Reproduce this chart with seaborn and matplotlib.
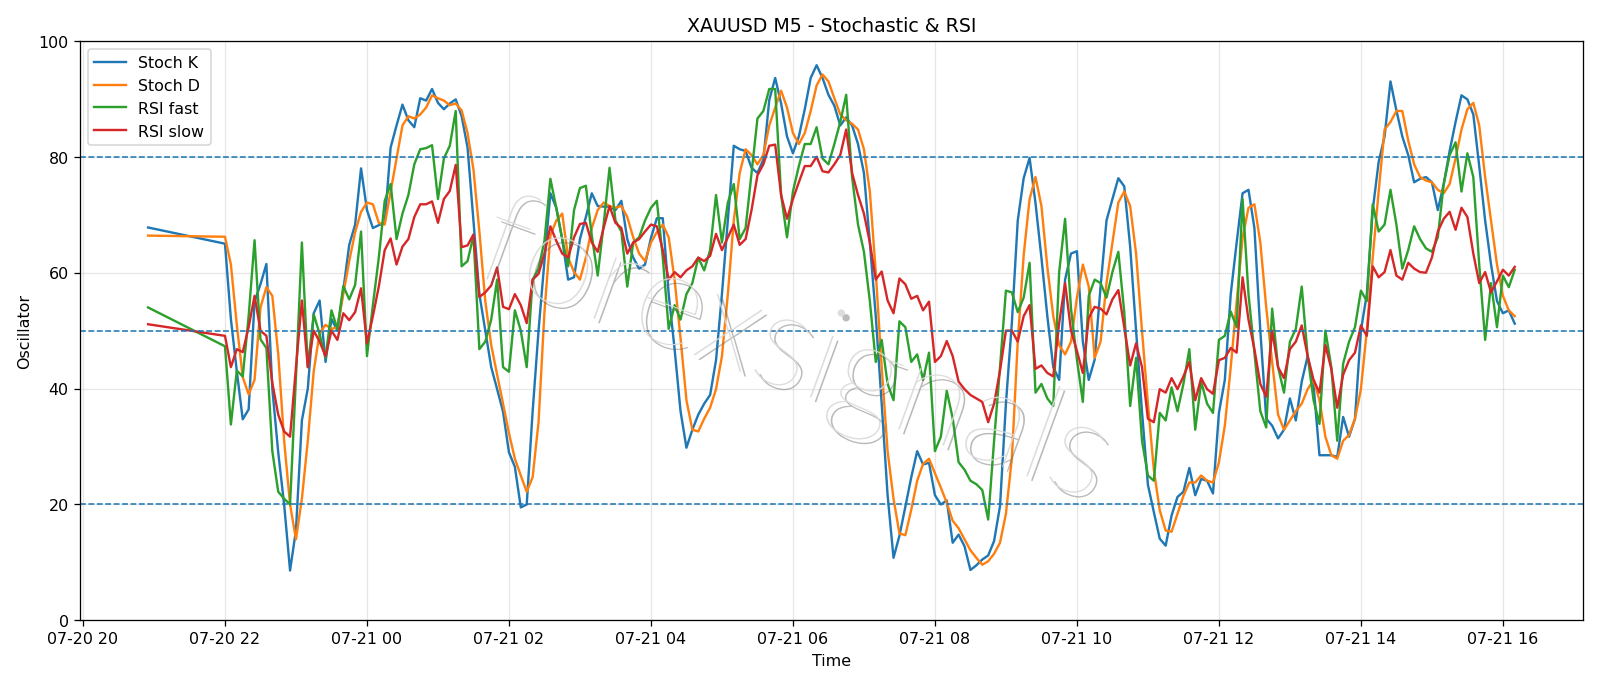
import pandas as pd
import matplotlib
matplotlib.use("Agg")
import matplotlib.pyplot as plt
import matplotlib.dates as mdates
import matplotlib.patheffects as pe
import seaborn as sns


# Valeurs : un point a 20:55, puis toutes les 5 min de 22:00 a 16:10
first_time = "2023-07-20 20:55"
start_time = "2023-07-20 22:00"
n_points = 219

stoch_k = [67.8,
    65.0, 52, 43, 34.7, 36.4, 55, 58, 61.5, 40, 29,
    20, 8.6, 15.6, 34.5, 40, 53, 55.2, 44.6, 52, 50,
    57, 64.8, 68.3, 78, 70.8, 67.7, 68.2, 68.6, 81.6, 85.4,
    89, 86.3, 85.1, 90.1, 89.7, 91.7, 89.3, 88.2, 89.2, 89.9,
    87, 81.6, 69, 56.3, 50, 43.7, 39.9, 36, 29, 26.5,
    19.5, 20, 36, 50, 62, 73.7, 71.2, 65.8, 58.8, 59.2,
    65.8, 69.6, 73.7, 71.5, 71.4, 71.4, 70.8, 72.4, 65.8, 62.6,
    60.7, 61.4, 66, 69.4, 69.4, 56.3, 46.8, 36.1, 29.8, 32.9,
    35.5, 37.4, 38.9, 44.9, 56.3, 69, 81.9, 81.3, 81, 78.1,
    77.2, 79.5, 89.8, 93.6, 89.2, 83.5, 80.6, 83.5, 88.2, 93.6,
    95.8, 93.6, 90.7, 88.8, 85.4, 86.8, 85.4, 82.2, 77.2, 65.2,
    52.5, 37.4, 21.6, 10.8, 14.6, 19.6, 24.7, 29.2, 26.9, 27.2,
    21.6, 20, 20.7, 13.4, 14.8, 12.8, 8.7, 9.5, 10.5, 11.2,
    13.7, 19.7, 37.4, 51.3, 69, 76.3, 79.8, 72, 62.6, 52.5,
    43.7, 41.5, 58.8, 63.3, 63.7, 48.1, 41.5, 45, 57.6, 69,
    72.7, 76.3, 74.9, 64.5, 50, 36, 23.4, 18.7, 14.1, 12.9,
    18.1, 21.3, 22.2, 26.3, 21.6, 24.4, 24.1, 21.9, 35.8, 41.5,
    56.3, 65.2, 73.7, 74.3, 67.7, 50, 34.8, 33.6, 31.4, 32.9,
    38.3, 34.5, 41.2, 45.6, 40.5, 28.5, 28.5, 28.5, 28.2, 35.1,
    31.7, 34.8, 50, 56.3, 70.8, 79.1, 83.5, 93, 88, 83.5,
    80.3, 75.6, 76.2, 76.5, 75.6, 70.8, 75.3, 81, 86, 90.6,
    89.9, 87.3, 78.4, 69, 61.4, 55.1, 53, 53.5, 51.2]

stoch_d = [66.4,
    66.2, 61.4, 51, 42, 39, 41.5, 54, 57.5, 56, 46,
    31, 20, 14, 21, 31, 43, 49.6, 51, 50.3, 50.6,
    56.3, 62, 67, 70.5, 72.1, 71.8, 68.6, 68.3, 74, 79.7,
    85.4, 87, 86.6, 87.3, 88.5, 90.6, 90.1, 89.7, 88.9, 89.2,
    88, 84.1, 77.8, 67.1, 55.1, 47.5, 42.4, 37.4, 32.3, 27.9,
    25, 22.2, 24.7, 34.2, 53.2, 66.4, 69, 70.2, 62.6, 60.1,
    58.8, 62.6, 67.7, 70.8, 72.1, 71.5, 71.2, 71.5, 69.6, 66.1,
    63.3, 62, 65.2, 67, 68.3, 66.1, 58.8, 48.7, 38, 32.9,
    32.6, 34.8, 36.7, 39.9, 45.6, 56.3, 69, 77.2, 81.3, 80.3,
    78.7, 80.3, 85.4, 88.5, 91.4, 88.5, 84.1, 82.2, 84.1, 87.9,
    92.3, 94.2, 93, 90.1, 87.3, 86.3, 85.7, 84.7, 81.3, 74,
    60.1, 43.7, 29.2, 21, 15, 14.7, 19.1, 24.1, 27, 27.9,
    25.4, 22.9, 20.3, 17.2, 15.9, 14, 12.1, 10.8, 9.6, 10.2,
    11.5, 13.4, 18.4, 27.9, 48.1, 63, 72.7, 76.5, 71.5, 61,
    52.5, 47.5, 45.9, 48.1, 55.7, 61.4, 57.6, 45.3, 48.1, 58.2,
    65.2, 72.1, 74, 71.5, 63.3, 50, 37.4, 26, 19, 15.5,
    15.3, 18.4, 21.5, 23.8, 23.8, 25, 24.1, 23.8, 27.3, 33.6,
    43.7, 55, 66, 71.2, 71.8, 65.2, 54, 44.6, 35.5, 32.9,
    34.5, 36.1, 37.4, 39.9, 41.5, 38, 31.7, 28.5, 27.9, 31,
    32, 34.8, 39.9, 50, 62.6, 74, 84.7, 86, 87.9, 87.9,
    82.8, 78.7, 76.5, 75.9, 75.6, 74.3, 73.7, 75.3, 79.7, 84.7,
    88.2, 89.3, 85.4, 76.5, 69, 61.4, 56, 53.5, 52.5]

rsi_fast = [54,
    47.3, 33.8, 43.1, 42.1, 52.5, 65.6, 48.5, 47, 29.2, 22.2,
    21, 20, 42, 65.2, 43.7, 52.8, 49.4, 45.3, 53.5, 50.3,
    57.7, 55.4, 57.9, 67.1, 45.6, 54.4, 62.6, 72.4, 75.3, 65.8,
    70.2, 73.4, 78.7, 81.3, 81.5, 82, 72.7, 79.7, 81.9, 87.9,
    61.1, 62, 66.4, 46.8, 48.1, 51.9, 58.8, 43.7, 42.9, 53.5,
    50, 43.7, 58.8, 60.7, 65.5, 76.2, 71.2, 65.8, 61.1, 70.8,
    74.6, 75, 66.4, 59.5, 68.3, 78.1, 69, 67.1, 57.6, 65.2,
    66.1, 69, 71.2, 72.4, 62.6, 50.3, 54.4, 51.9, 56.3, 58.2,
    62.6, 60.4, 63.9, 73.4, 65.2, 72.1, 75.3, 65.8, 67.7, 77.2,
    86.6, 87.9, 91.7, 91.7, 73.4, 66.1, 74, 78.4, 82.2, 82.2,
    85.1, 79.7, 78.7, 82.2, 86, 90.7, 76.5, 68.3, 63.6, 55.1,
    44.6, 48.4, 40.8, 38, 51.6, 50.6, 44.6, 45.9, 41.5, 46.2,
    29.2, 31.7, 39.6, 34.9, 27.3, 26, 24.1, 23.5, 22.5, 17.4,
    31, 43.7, 56.9, 56.6, 53.2, 55.7, 61.7, 39.3, 40.8, 38.3,
    37, 60.1, 69.3, 53.8, 45, 37.7, 56, 58.8, 58.2, 55.7,
    60.1, 63.6, 53.2, 37, 45.3, 31, 25, 24.1, 35.8, 34.5,
    40.2, 36.1, 40.8, 46.8, 32.9, 41.2, 37.4, 35.8, 48.4, 49.1,
    53.3, 50.6, 72.7, 56.3, 46.2, 36.1, 33.3, 53.8, 43.7, 39.3,
    48.1, 50.3, 57.6, 45.6, 38, 33.9, 50, 43.7, 31, 44.3,
    48.1, 50.6, 56.9, 55.1, 71.8, 67.1, 68.3, 74.3, 68.3, 60.7,
    63.9, 68, 65.8, 64.2, 63.6, 66.1, 75.3, 80.3, 82.5, 74,
    80.6, 76.5, 61.4, 48.4, 58.2, 50.6, 59.5, 57.5, 60.5]

rsi_slow = [51.1,
    49.1, 43.7, 46.8, 46.3, 50.6, 56, 50, 49.1, 41, 35.5,
    32.6, 31.7, 43.7, 55.2, 43.7, 50, 48.1, 45.6, 50, 48.4,
    53, 51.8, 53.2, 57.3, 47.8, 52.5, 57.6, 63.9, 65.9, 61.4,
    64.5, 65.8, 69.6, 71.8, 71.8, 72.3, 68.6, 72.7, 74.1, 78.6,
    64.4, 64.7, 66.6, 55.8, 56.6, 57.8, 60.9, 54.1, 53.7, 56.3,
    54.4, 51.3, 58.8, 59.8, 63.3, 68, 65.5, 63.3, 62.6, 66.1,
    68.4, 68.6, 65.2, 63.6, 67.7, 71.5, 68.6, 67.7, 63.3, 65.2,
    65.8, 67.1, 68.3, 68, 63.9, 58.8, 60.1, 59.2, 60.4, 61.1,
    62.6, 62, 62.9, 66.7, 63.9, 66.1, 68.3, 64.8, 65.8, 70.8,
    76.8, 78.7, 81.9, 82.1, 73.4, 69.3, 72.7, 75.6, 78.4, 78.4,
    80, 77.5, 77.3, 78.7, 80.3, 84.7, 77.2, 73.4, 70.2, 65.2,
    58.8, 60.2, 55.2, 53, 59, 58, 55.5, 56, 53.5, 55,
    44.6, 45.6, 48.2, 45.6, 41.2, 39.9, 38.9, 38.3, 37.7, 34.2,
    37.4, 43.1, 50, 50, 48.1, 52.5, 54.4, 43.4, 44, 42.7,
    42.1, 51.3, 58.2, 50, 46.5, 42.7, 52.2, 54.1, 53.8, 52.8,
    55.4, 57, 50.6, 44, 47.8, 43.7, 34.8, 34.2, 39.9, 39.3,
    41.8, 39.9, 42.1, 44.6, 38, 41.8, 39.9, 39.1, 44.9, 45.3,
    47, 46.2, 59.2, 51.9, 46.8, 40.8, 38.6, 50, 43.7, 41.8,
    46.8, 48.1, 50.9, 45.6, 41.5, 39.3, 47.5, 43.4, 36.7, 42.4,
    44.9, 46.2, 50.9, 49.1, 61.1, 59.2, 60.1, 63.9, 59.5, 58.8,
    61.7, 60.7, 60.1, 60, 62.6, 67.1, 69.3, 70.5, 67.4, 71.2,
    69.6, 63.3, 58.2, 60.1, 56.6, 58.5, 60.5, 59.5, 61]

levels = [80, 50, 20]
series_names = ["Stoch K", "Stoch D", "RSI fast", "RSI slow"]


def build_frame():
    times = [pd.Timestamp(first_time)] + list(pd.date_range(start_time, periods=n_points, freq="5min"))
    df = pd.DataFrame({"time": times,
                       "Stoch K": stoch_k,
                       "Stoch D": stoch_d,
                       "RSI fast": rsi_fast,
                       "RSI slow": rsi_slow})
    return df.melt(id_vars="time", var_name="series", value_name="value")


def plot(df_long):
    fig, ax = plt.subplots(figsize=(14, 6), dpi=114.3)
    palette = dict(zip(series_names, ["tab:blue", "tab:orange", "tab:green", "tab:red"]))
    sns.lineplot(data=df_long, x="time", y="value", hue="series", hue_order=series_names,
                 palette=palette, linewidth=1.5, ax=ax)
    for lvl in levels:
        ax.axhline(lvl, linestyle="--", linewidth=1, color="tab:blue")
    ax.set_ylim(0, 100)
    ax.grid(True, alpha=0.3)
    ax.xaxis.set_major_locator(mdates.HourLocator(interval=2))
    ax.xaxis.set_major_formatter(mdates.DateFormatter("%m-%d %H"))
    ax.set_title("XAUUSD M5 - Stochastic & RSI")
    ax.set_xlabel("Time")
    ax.set_ylabel("Oscillator")
    ax.legend(loc="upper left", title=None)
    # filigrane
    ax.text(0.475, 0.46, "forexsignals", transform=ax.transAxes, fontsize=84,
            family="Lato", fontweight="light", color="0.85", alpha=0.9, rotation=-20,
            ha="center", va="center", zorder=5,
            path_effects=[pe.withSimplePatchShadow(offset=(3, -3), shadow_rgbFace="0.4", alpha=0.45)])
    fig.tight_layout()
    return fig


if __name__ == "__main__":
    data = build_frame()
    fig = plot(data)
    fig.savefig("out.png", dpi=114.3)
